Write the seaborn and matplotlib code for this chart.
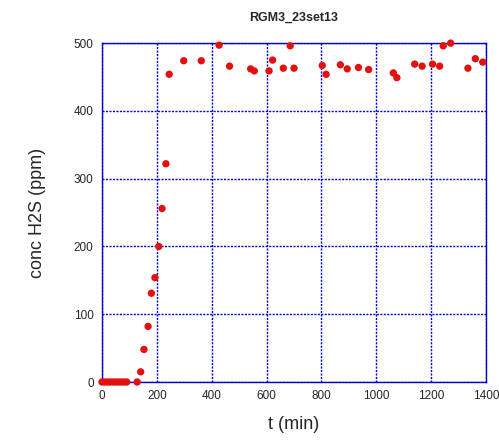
import pandas as pd
import matplotlib
matplotlib.use('Agg')
import matplotlib.pyplot as plt
import seaborn as sns

t_min = [0, 10, 20, 30, 40, 50, 60, 70, 80, 90, 128, 141, 153, 168, 180, 193, 207, 219,
         233, 245, 298, 362, 427, 465, 542, 555, 609, 622, 661, 686, 700, 803, 817,
         869, 894, 935, 972, 1062, 1075, 1140, 1167, 1205, 1231, 1244, 1271, 1334,
         1361, 1388]
conc_h2s = [0, 0, 0, 0, 0, 0, 0, 0, 0, 0, 0, 15, 48, 82, 131, 154, 200, 256,
            322, 454, 474, 474, 497, 466, 462, 459, 459, 475, 463, 496, 463, 467, 454,
            468, 462, 464, 461, 456, 449, 469, 466, 469, 466, 496, 500, 463,
            477, 472]

df = pd.DataFrame({'t': t_min, 'conc': conc_h2s})

sns.set_style('white')
plt.rcParams['font.family'] = ['Liberation Sans', 'DejaVu Sans']

fig = plt.figure(figsize=(4.99, 4.40), dpi=100)
ax = fig.add_axes([0.2044, 0.1318, 0.7696, 0.7702])

sns.scatterplot(data=df, x='t', y='conc', ax=ax, color='#e31010', s=28,
                edgecolor='none', zorder=3, clip_on=False)

ax.set_xlim(0, 1400)
ax.set_ylim(0, 500)
ax.set_xticks(range(0, 1401, 200))
ax.set_yticks(range(0, 501, 100))
ax.grid(True, color='#0000cc', linestyle=(0, (1.5, 1)), linewidth=1.0)
for sp in ax.spines.values():
    sp.set_color('#0000cc')
    sp.set_linewidth(1.0)
ax.tick_params(direction='in', color='#0000cc', length=4, labelsize=8.5, pad=6)

ax.set_title('RGM3_23set13', fontsize=9, fontweight='bold', pad=16)
ax.set_xlabel('t (min)', fontsize=13, labelpad=10)
ax.set_ylabel('conc H2S (ppm)', fontsize=13, labelpad=20)

fig.savefig('out.png', dpi=100)
